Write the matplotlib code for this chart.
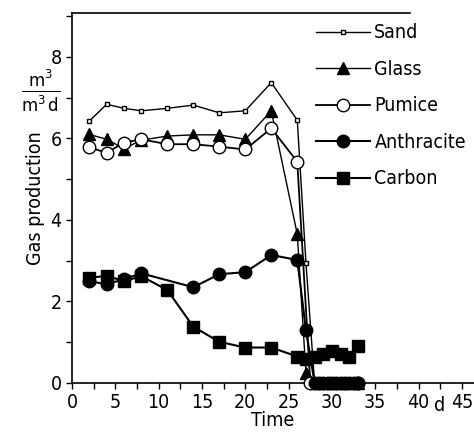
import matplotlib
matplotlib.use("Agg")
import matplotlib.pyplot as plt
from matplotlib.ticker import MultipleLocator

plt.rcParams['font.family'] = ['DejaVu Sans']
plt.rcParams['font.stretch'] = 'condensed'
plt.rcParams['mathtext.fontset'] = 'dejavusans'

# Gas production per filter material (m3 / m3 d) over time (d)
sand_t = [2, 4, 6, 8, 11, 14, 17, 20, 23, 26, 27, 28, 29, 30, 31, 32, 33]
sand_v = [6.43, 6.84, 6.74, 6.68, 6.74, 6.82, 6.63, 6.68, 7.37, 6.45, 2.95, 0, 0, 0, 0, 0, 0]

glass_t = [2, 4, 6, 8, 11, 14, 17, 20, 23, 26, 27, 28, 29, 30, 31, 32, 33]
glass_v = [6.1, 5.98, 5.75, 5.96, 6.06, 6.09, 6.09, 5.98, 6.68, 3.65, 0.25, 0, 0, 0, 0, 0, 0]

pumice_t = [2, 4, 6, 8, 11, 14, 17, 20, 23, 26, 27.5, 28.5, 29.5, 30.5, 31.5, 32.5, 33]
pumice_v = [5.78, 5.65, 5.9, 5.98, 5.86, 5.86, 5.8, 5.73, 6.25, 5.43, 0, 0, 0, 0, 0, 0, 0]

anth_t = [2, 4, 6, 8, 14, 17, 20, 23, 26, 27, 28, 29, 30, 31, 32, 33]
anth_v = [2.5, 2.42, 2.55, 2.69, 2.35, 2.67, 2.72, 3.14, 3.02, 1.3, 0, 0, 0, 0, 0, 0]

carbon_t = [2, 4, 6, 8, 11, 14, 17, 20, 23, 26, 27, 28, 29, 30, 31, 32, 33]
carbon_v = [2.58, 2.63, 2.5, 2.62, 2.28, 1.38, 1.01, 0.87, 0.87, 0.65, 0.6, 0.65, 0.72, 0.78, 0.72, 0.65, 0.9]

fig = plt.figure(figsize=(4.74, 4.33), dpi=100)
ax = fig.add_axes([0.152, 0.1155, 0.848, 0.8545])

kw = dict(color='black', clip_on=False, zorder=3)
ax.plot(sand_t, sand_v, marker='s', ms=3.5, mfc='white', mew=1.0, lw=1.0, label='Sand', **kw)
ax.plot(glass_t, glass_v, marker='^', ms=9, lw=1.0, label='Glass', **kw)
ax.plot(pumice_t, pumice_v, marker='o', ms=9, mfc='white', mew=1.0, lw=1.3, label='Pumice', **kw)
ax.plot(anth_t, anth_v, marker='o', ms=9, lw=1.5, label='Anthracite', **kw)
ax.plot(carbon_t, carbon_v, marker='s', ms=9, lw=1.5, label='Carbon', **kw)

ax.set_xlim(0, 46.4)
ax.set_ylim(0, 9.08)
ax.xaxis.set_minor_locator(MultipleLocator(2.5))
ax.yaxis.set_minor_locator(MultipleLocator(1))
ax.set_xticks(range(0, 50, 5))
ax.set_yticks(range(0, 10, 2))
ax.tick_params(which='both', direction='out', length=4, width=1, labelsize=14)
ax.spines['right'].set_visible(False)
ax.spines['top'].set_bounds(0, 39)
for s in ax.spines.values():
    s.set_linewidth(1.2)

ax.text(42.4, -0.33, 'd', ha='center', va='top', fontsize=14)
ax.set_xlabel('Time', fontsize=14, labelpad=-1)
ax.set_ylabel('Gas production', fontsize=14, labelpad=4)
fig.text(0.085, 0.79, r'$\frac{\mathrm{m}^3}{\mathrm{m}^3\,\mathrm{d}}$', fontsize=19,
         ha='center', va='center')

ax.legend(loc='upper left', bbox_to_anchor=(0.607, 0.972), frameon=False, fontsize=14,
          handlelength=2.8, handletextpad=0.2, labelspacing=0.9, borderaxespad=0,
          borderpad=0)

fig.savefig('out.png', dpi=100)
